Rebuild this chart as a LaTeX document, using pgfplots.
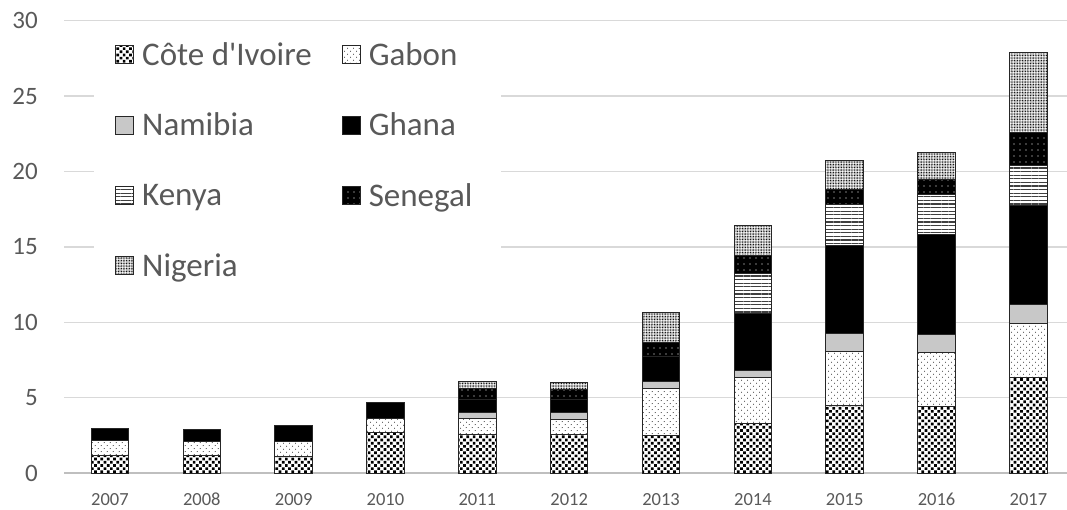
\documentclass[border=0pt]{standalone}
\usepackage{pgfplots}
\pgfplotsset{compat=1.18}
\usepackage{fontspec}
\setmainfont{Carlito}
\usetikzlibrary{patterns.meta}
\definecolor{tc}{HTML}{595959}
\definecolor{gridc}{HTML}{D9D9D9}
\definecolor{axc}{HTML}{BFBFBF}
\definecolor{nam}{HTML}{C8C8C8}
\pgfplotsset{
  sq/.style={legend image code/.code={\draw[##1, line width=1pt] (0pt,-9pt) rectangle (18pt,9pt);}},
}
\begin{document}
\begin{tikzpicture}
\begin{axis}[
  at={(64pt,36.9pt)}, anchor=south west,
  scale only axis, width=1003pt, height=452.4pt,
  xmin=-0.5, xmax=10.42, ymin=0, ymax=30,
  ybar stacked, bar width=37.5pt,
  xtick={0,...,10}, xticklabels={2007,2008,2009,2010,2011,2012,2013,2014,2015,2016,2017},
  ytick={0,5,...,30},
  major tick length=0pt,
  axis line style={draw=none},
  ymajorgrids, grid style={draw=gridc, line width=1.3pt},
  extra y ticks={0}, extra y tick labels={},
  extra y tick style={grid style={draw=axc, line width=1.8pt}},
  /pgf/number format/assume math mode=true,
  yticklabel style={font=\fontsize{25}{30}\selectfont, text=tc, inner sep=0pt, anchor=east, xshift=-26pt},
  xticklabel style={font=\fontsize{18.5}{22}\selectfont, text=tc, inner sep=0pt, anchor=north, yshift=-20pt},
  legend columns=2,
  legend cell align=left,
  legend style={at={(0.0299,0.979)}, anchor=north west, draw=none, fill=white,
    inner xsep=21pt, inner ysep=10pt, font=\fontsize{33}{40}\selectfont, text=tc,
    row sep=42pt,
    nodes={inner xsep=8pt, inner ysep=2pt},
    /tikz/every even column/.append style={column sep=22pt}},
]
% Cote d'Ivoire
\addplot[sq, draw=black!85, line width=1pt, fill=white, postaction={pattern={Dots[radius=1.9pt, distance=4.5pt, angle=45]}, pattern color=black}]
 coordinates {(0,1.18) (1,1.15) (2,1.13) (3,2.66) (4,2.59) (5,2.57) (6,2.52) (7,3.30) (8,4.47) (9,4.40) (10,6.35)};
% Gabon
\addplot[sq, draw=black!85, line width=1pt, fill=white, postaction={pattern={Dots[radius=0.55pt, distance=4pt, angle=45]}, pattern color=black}]
 coordinates {(0,0.95) (1,0.95) (2,0.98) (3,0.95) (4,1.00) (5,0.98) (6,3.10) (7,3.05) (8,3.58) (9,3.58) (10,3.58)};
% Namibia
\addplot[sq, draw=black!85, line width=1pt, fill=nam]
 coordinates {(0,0) (1,0) (2,0) (3,0) (4,0.46) (5,0.45) (6,0.48) (7,0.45) (8,1.22) (9,1.24) (10,1.22)};
% Ghana
\addplot[sq, draw=black!85, line width=1pt, fill=black]
 coordinates {(0,0.84) (1,0.80) (2,1.02) (3,1.04) (4,0.80) (5,0.85) (6,1.60) (7,3.80) (8,5.80) (9,6.58) (10,6.58)};
% Kenya
\addplot[sq, draw=black!85, line width=1pt, fill=white, postaction={pattern={Lines[angle=0, distance=3.6pt, line width=1.3pt]}, pattern color=black!75}]
 coordinates {(0,0) (1,0) (2,0) (3,0) (4,0) (5,0) (6,0) (7,2.65) (8,2.71) (9,2.69) (10,2.70)};
% Senegal
\addplot[sq, draw=black!85, line width=1pt, fill=black, postaction={pattern={Dots[radius=0.6pt, distance=6pt]}, pattern color=white}]
 coordinates {(0,0) (1,0) (2,0) (3,0) (4,0.73) (5,0.70) (6,0.95) (7,1.15) (8,1.04) (9,0.99) (10,2.14)};
% Nigeria
\addplot[sq, draw=black!85, line width=1pt, fill=white, postaction={pattern={Dots[radius=0.55pt, distance=1.6pt]}, pattern color=black}]
 coordinates {(0,0) (1,0) (2,0) (3,0) (4,0.48) (5,0.45) (6,2.00) (7,2.00) (8,1.90) (9,1.81) (10,5.31)};
\legend{C\^ote d\textquotesingle Ivoire, Gabon, Namibia, Ghana, Kenya, Senegal, Nigeria}
\end{axis}
\pgfresetboundingbox
\path[use as bounding box] (0,0) rectangle (1067pt,510pt);
\end{tikzpicture}
\end{document}
